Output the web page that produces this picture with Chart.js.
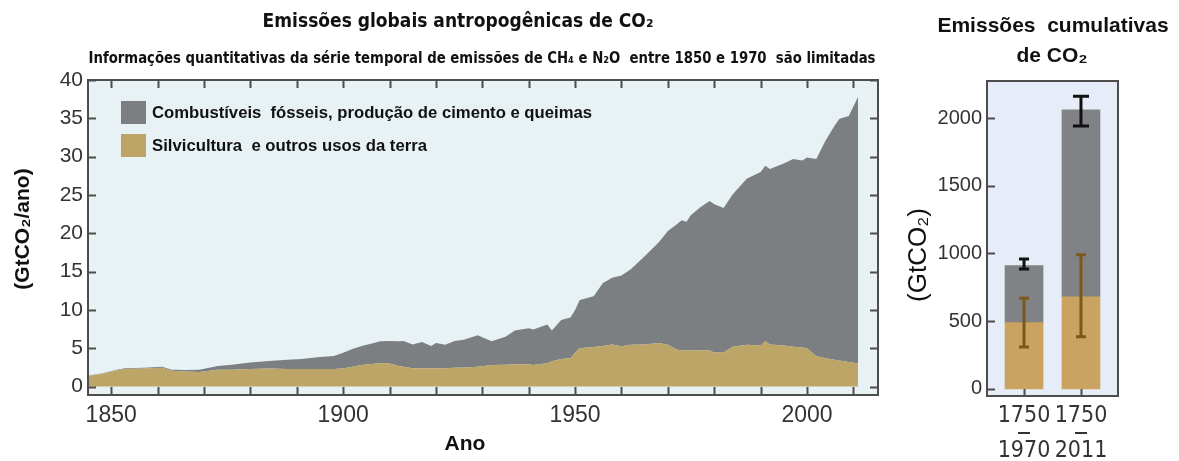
<!DOCTYPE html>
<html>
<head>
<meta charset="utf-8">
<script src="https://cdn.jsdelivr.net/npm/chart.js@4.4.1/dist/chart.umd.min.js"></script>
<style>
  html, body { margin: 0; padding: 0; background: #fff; }
  #wrap { position: relative; width: 1179px; height: 461px; }
  #left { position: absolute; left: 0; top: 0; }
  #right { position: absolute; left: 900px; top: 0; }
</style>
</head>
<body>
<div id="wrap">
  <canvas id="left" width="900" height="461"></canvas>
  <canvas id="right" width="279" height="461"></canvas>
</div>
<script>
// annual emissions (GtCO2/ano)
const years = [1845, 1848, 1851, 1853, 1857, 1861, 1863, 1866, 1869, 1873, 1876, 1880, 1884, 1888, 1891, 1895, 1898,
  1900, 1902, 1904, 1906, 1908, 1910, 1912, 1913, 1915, 1917, 1919, 1920, 1922, 1924, 1926, 1929, 1930, 1932, 1935,
  1937, 1940, 1941, 1944, 1945, 1947, 1949, 1950, 1951, 1954, 1956, 1958, 1960, 1962, 1965, 1968, 1970, 1972, 1973,
  1974, 1975, 1977, 1979, 1980, 1982, 1984, 1987, 1990, 1991, 1992, 1995, 1997, 1999, 2000, 2002, 2004, 2006, 2007,
  2009, 2011];
const landUse = [1.4, 1.65, 2.1, 2.3, 2.35, 2.45, 2.05, 1.95, 1.9, 2.2, 2.2, 2.3, 2.35, 2.3, 2.3, 2.3, 2.3,
  2.35, 2.6, 2.8, 2.95, 3.05, 3.0, 2.7, 2.6, 2.4, 2.4, 2.4, 2.4, 2.4, 2.45, 2.5, 2.6, 2.65, 2.8, 2.85,
  2.9, 2.9, 2.8, 3.05, 3.3, 3.6, 3.7, 4.4, 5.0, 5.15, 5.3, 5.5, 5.25, 5.45, 5.5, 5.7, 5.45, 4.8, 4.75,
  4.7, 4.7, 4.75, 4.7, 4.45, 4.45, 5.2, 5.45, 5.35, 5.9, 5.5, 5.35, 5.2, 5.1, 5.0, 3.95, 3.7, 3.5, 3.4,
  3.2, 3.0];
const fossil = [0.05, 0.05, 0.05, 0.1, 0.1, 0.15, 0.15, 0.2, 0.3, 0.5, 0.65, 0.85, 1.0, 1.2, 1.3, 1.55, 1.7,
  2.05, 2.3, 2.5, 2.65, 2.85, 2.95, 3.2, 3.35, 3.1, 3.4, 2.9, 3.3, 3.05, 3.5, 3.6, 4.1, 3.8, 3.1, 3.65,
  4.4, 4.7, 4.65, 5.05, 4.0, 5.1, 5.3, 5.6, 6.3, 6.65, 8.2, 8.7, 9.25, 9.85, 11.5, 13.1, 14.85, 16.4, 16.95,
  16.8, 17.7, 18.65, 19.5, 19.35, 18.85, 19.9, 21.65, 22.65, 22.9, 22.9, 23.75, 24.5, 24.4, 24.9, 25.75, 28.4, 30.6, 31.55,
  32.1, 34.8];
const seriesNames = ['Combustíveis  fósseis, produção de cimento e queimas', 'Silvicultura  e outros usos da terra'];
const yTicks = [0, 5, 10, 15, 20, 25, 30, 35, 40];
const decadeTicks = [1850, 1860, 1870, 1880, 1890, 1900, 1910, 1920, 1930, 1940, 1950, 1960, 1970, 1980, 1990, 2000, 2010];
const yearLabels = [1850, 1900, 1950, 2000];

// cumulative emissions (GtCO2)
const periods = [['1750', '1970'], ['1750', '2011']];
const cumLand = [490, 680];
const cumFossil = [420, 1380];
const totalErrLow = [885, 1940];
const totalErrHigh = [960, 2160];
const landErrLow = [310, 385];
const landErrHigh = [670, 990];
const cumTicks = [0, 500, 1000, 1500, 2000];

const SANS = "'Liberation Sans', Arial, sans-serif";
const NARROW = "'Liberation Sans Narrow', 'DejaVu Sans Condensed', 'Liberation Sans', sans-serif";
Chart.defaults.font.family = SANS;

// plot background, frame, inward tick marks and (optionally) the legend
const plotFrame = {
  id: 'plotFrame',
  beforeDatasetsDraw(chart, args, opts) {
    const a = chart.chartArea, ctx = chart.ctx;
    ctx.save();
    ctx.fillStyle = opts.bg;
    ctx.fillRect(a.left, a.top, a.right - a.left, a.bottom - a.top);
    ctx.restore();
  },
  afterDatasetsDraw(chart, args, opts) {
    const a = chart.chartArea, ctx = chart.ctx;
    const xs = chart.scales.x, ys = chart.scales.y;
    ctx.save();
    ctx.strokeStyle = '#4d4d4d';
    ctx.lineWidth = 2;
    ctx.beginPath();
    ys.ticks.forEach(t => {
      const py = Math.round(ys.getPixelForValue(t.value)) + 0.5;
      ctx.moveTo(a.left, py); ctx.lineTo(a.left + 8, py);
      if (opts.rightTicks) { ctx.moveTo(a.right, py); ctx.lineTo(a.right - 8, py); }
    });
    xs.ticks.forEach(t => {
      const px = Math.round(xs.getPixelForValue(t.value)) + 0.5;
      ctx.moveTo(px, a.bottom); ctx.lineTo(px, a.bottom - opts.xTickLen);
      if (opts.topTicks) { ctx.moveTo(px, a.top); ctx.lineTo(px, a.top + 8); }
    });
    ctx.stroke();
    ctx.strokeRect(a.left, a.top, a.right - a.left, a.bottom - a.top);
    ctx.restore();

    if (opts.legend) {
      const ds = [chart.data.datasets[1], chart.data.datasets[0]];
      ctx.save();
      ctx.font = 'bold 17px ' + SANS;
      ctx.textBaseline = 'middle';
      ds.forEach((d, i) => {
        const top = a.top + 21 + i * 33;
        ctx.fillStyle = d.backgroundColor;
        ctx.fillRect(a.left + 33, top, 25, 23);
        ctx.fillStyle = '#111';
        ctx.fillText(d.label, a.left + 64, top + 12, i === 0 ? 440 : 275);
      });
      ctx.restore();
    }
  }
};

// free text: titles and axis names
const textLayer = {
  id: 'textLayer',
  afterDraw(chart, args, opts) {
    const ctx = chart.ctx;
    opts.items.forEach(t => {
      ctx.save();
      ctx.translate(t.x, t.y);
      if (t.rotate) ctx.rotate(t.rotate);
      ctx.font = t.font;
      ctx.fillStyle = '#111';
      ctx.textAlign = 'center';
      ctx.textBaseline = 'middle';
      if (t.maxWidth) ctx.fillText(t.text, 0, 0, t.maxWidth);
      else ctx.fillText(t.text, 0, 0);
      ctx.restore();
    });
  }
};

// error bars and the dash between the period labels
const errorBars = {
  id: 'errorBars',
  afterDatasetsDraw(chart) {
    const ctx = chart.ctx, xs = chart.scales.x, ys = chart.scales.y;
    const draw = (low, high, color, caps) => {
      ctx.save();
      ctx.strokeStyle = color;
      ctx.lineWidth = 3;
      low.forEach((lo, i) => {
        const px = xs.getPixelForValue(i);
        const y1 = ys.getPixelForValue(lo), y2 = ys.getPixelForValue(high[i]);
        ctx.beginPath();
        ctx.moveTo(px, y1); ctx.lineTo(px, y2);
        ctx.moveTo(px - caps[i] / 2, y1); ctx.lineTo(px + caps[i] / 2, y1);
        ctx.moveTo(px - caps[i] / 2, y2); ctx.lineTo(px + caps[i] / 2, y2);
        ctx.stroke();
      });
      ctx.restore();
    };
    draw(landErrLow, landErrHigh, '#7a5a1c', [10, 10]);
    draw(totalErrLow, totalErrHigh, '#111', [10, 16]);
  },
  afterDraw(chart) {
    const ctx = chart.ctx, xs = chart.scales.x;
    ctx.save();
    ctx.strokeStyle = '#333';
    ctx.lineWidth = 2;
    periods.forEach((p, i) => {
      const px = xs.getPixelForValue(i);
      ctx.beginPath();
      ctx.moveTo(px - 6, 433); ctx.lineTo(px + 6, 433);
      ctx.stroke();
    });
    ctx.restore();
  }
};

new Chart(document.getElementById('left'), {
  type: 'line',
  data: {
    datasets: [
      {
        label: seriesNames[1],
        data: years.map((yr, i) => ({ x: yr, y: landUse[i] })),
        backgroundColor: '#bda567',
        fill: 'origin', borderWidth: 0, pointRadius: 0, tension: 0
      },
      {
        label: seriesNames[0],
        data: years.map((yr, i) => ({ x: yr, y: fossil[i] })),
        backgroundColor: '#7b7f82',
        fill: '-1', borderWidth: 0, pointRadius: 0, tension: 0
      }
    ]
  },
  options: {
    responsive: false,
    animation: false,
    devicePixelRatio: 1,
    layout: { padding: { top: 80, right: 22, left: 0, bottom: 0 } },
    plugins: {
      legend: { display: false },
      tooltip: { enabled: false },
      plotFrame: { bg: '#e8f1f4', rightTicks: true, topTicks: true, xTickLen: 8, legend: true },
      textLayer: {
        items: [
          { text: 'Emissões globais antropogênicas de CO₂', x: 458, y: 22, font: 'bold 19px ' + NARROW, maxWidth: 394 },
          { text: 'Informações quantitativas da série temporal de emissões de CH₄ e N₂O  entre 1850 e 1970  são limitadas',
            x: 482, y: 59, font: 'bold 15px ' + NARROW, maxWidth: 787 },
          { text: '(GtCO₂/ano)', x: 23, y: 229, rotate: -Math.PI / 2, font: 'bold 21px ' + SANS, maxWidth: 133 },
          { text: 'Ano', x: 465, y: 444, font: 'bold 21px ' + SANS }
        ]
      }
    },
    scales: {
      x: {
        type: 'linear', min: 1845, max: 2015.3,
        afterBuildTicks: s => { s.ticks = decadeTicks.map(v => ({ value: v })); },
        afterFit: s => { s.height = 66; },
        grid: { display: false, drawTicks: false },
        border: { display: false },
        ticks: {
          autoSkip: false, maxRotation: 0, padding: 7, color: '#333',
          font: { size: 23 },
          callback: v => yearLabels.includes(v) ? String(v) : ''
        }
      },
      y: {
        stacked: true, min: -1.1, max: 40,
        afterBuildTicks: s => { s.ticks = yTicks.map(v => ({ value: v })); },
        afterFit: s => { s.width = 88; },
        grid: { display: false, drawTicks: false },
        border: { display: false },
        ticks: { padding: 5, color: '#333', font: { size: 21 } }
      }
    }
  },
  plugins: [plotFrame, textLayer]
});

new Chart(document.getElementById('right'), {
  type: 'bar',
  data: {
    datasets: [
      {
        label: seriesNames[1],
        data: cumLand.map((v, i) => ({ x: i, y: v })),
        backgroundColor: '#c9a35f', barThickness: 38
      },
      {
        label: seriesNames[0],
        data: cumFossil.map((v, i) => ({ x: i, y: v })),
        backgroundColor: '#808286', barThickness: 38
      }
    ]
  },
  options: {
    responsive: false,
    animation: false,
    devicePixelRatio: 1,
    layout: { padding: { top: 81, right: 61, left: 0, bottom: 0 } },
    plugins: {
      legend: { display: false },
      tooltip: { enabled: false },
      plotFrame: { bg: '#e7edf8', rightTicks: false, topTicks: false, xTickLen: 7, legend: false },
      textLayer: {
        items: [
          { text: 'Emissões  cumulativas', x: 153, y: 26, font: 'bold 21px ' + SANS, maxWidth: 252 },
          { text: 'de CO₂', x: 152, y: 56, font: 'bold 21px ' + SANS },
          { text: '(GtCO₂)', x: 19, y: 255, rotate: -Math.PI / 2, font: '26px ' + SANS, maxWidth: 110 }
        ]
      }
    },
    scales: {
      x: {
        type: 'linear', stacked: true, min: -0.65, max: 1.65, offset: false,
        afterBuildTicks: s => { s.ticks = periods.map((p, i) => ({ value: i })); },
        afterFit: s => { s.height = 65; },
        grid: { display: false, drawTicks: false, offset: false },
        border: { display: false },
        ticks: {
          autoSkip: false, maxRotation: 0, padding: 3, color: '#333',
          font: { size: 23, family: NARROW, lineHeight: 1.52 },
          callback: v => periods[v]
        }
      },
      y: {
        stacked: true, min: -52, max: 2273,
        afterBuildTicks: s => { s.ticks = cumTicks.map(v => ({ value: v })); },
        afterFit: s => { s.width = 87; },
        grid: { display: false, drawTicks: false },
        border: { display: false },
        ticks: { padding: 5, color: '#333', font: { size: 20 }, callback: v => String(v) }
      }
    }
  },
  plugins: [plotFrame, errorBars, textLayer]
});
</script>
</body>
</html>
